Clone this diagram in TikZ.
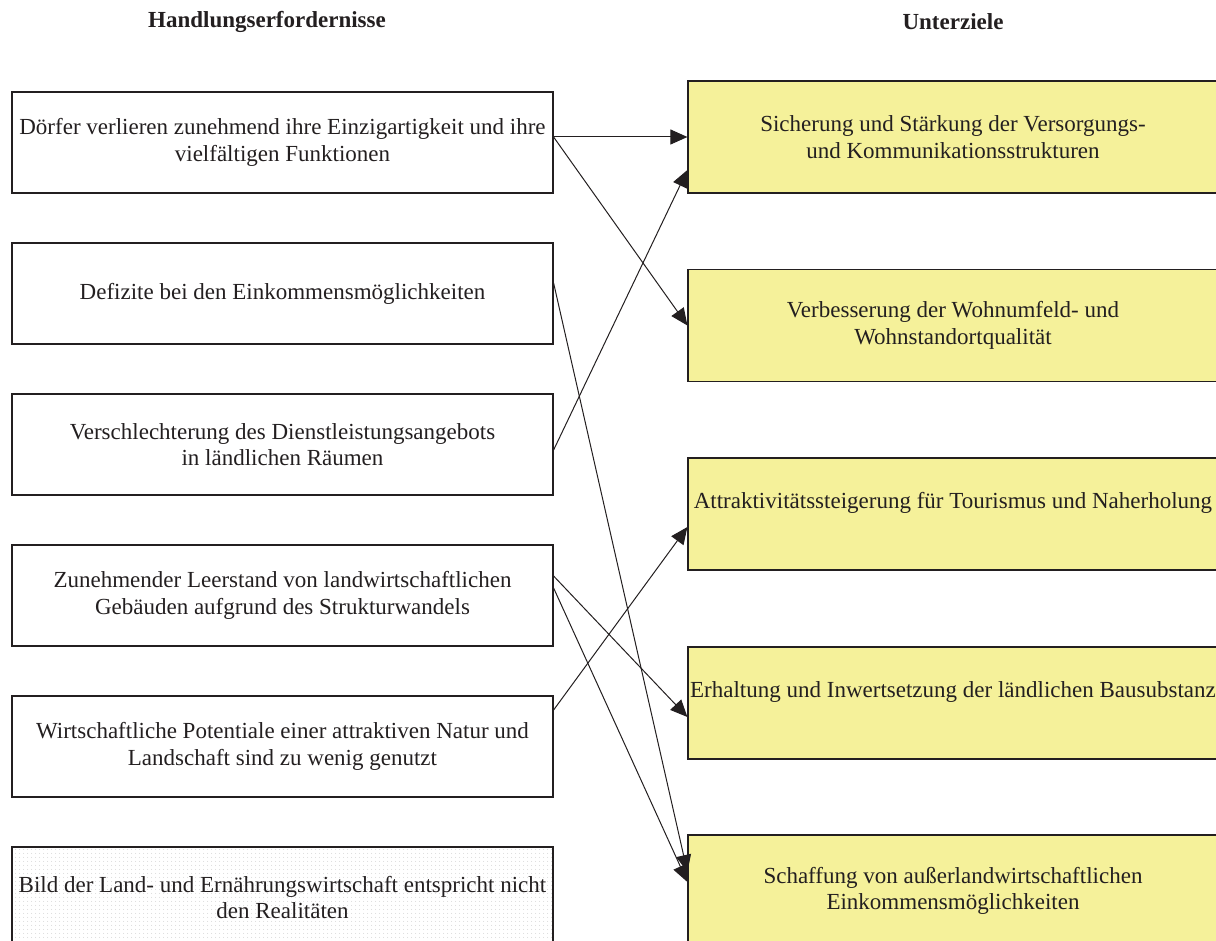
\documentclass[tikz,border=0pt]{standalone}
\usepackage{fontspec}
\setmainfont{Liberation Serif}
\usetikzlibrary{arrows.meta,patterns.meta}
\definecolor{zielgelb}{HTML}{F5F19A}
\definecolor{strich}{HTML}{231F20}
\begin{document}
\begin{tikzpicture}[x=1pt,y=-1pt,
        feld/.style={draw=strich,line width=1.2pt,minimum width=541pt,minimum height=101pt,
          inner sep=0pt,align=center,text=strich,font=\fontsize{23}{26.5}\selectfont},
        ziel/.style={feld,fill=zielgelb,minimum width=530pt,minimum height=112pt},
        kopf/.style={text=strich,font=\fontsize{23}{26.5}\selectfont\bfseries},
        pfeil/.style={draw=strich,line width=1pt,-{Triangle[length=17pt,width=15pt]}}]
        \clip (0,0) rectangle (1216,941);
        % Ueberschriften
        \node[kopf] (hkopf) at (267,22) {Handlungserfordernisse};
        \node[kopf] (ukopf) at (953,22) {Unterziele};
        % Handlungserfordernisse links
        \node[feld] (h1) at (282.5,142.5) {Dörfer verlieren zunehmend ihre Einzigartigkeit und ihre\\vielfältigen Funktionen};
        \node[feld] (h2) at (282.5,293.5) {Defizite bei den Einkommensmöglichkeiten};
        \node[feld] (h3) at (282.5,444.5) {Verschlechterung des Dienstleistungsangebots\\in ländlichen Räumen};
        \node[feld] (h4) at (282.5,595.5) {Zunehmender Leerstand von landwirtschaftlichen\\Gebäuden aufgrund des Strukturwandels};
        \node[feld] (h5) at (282.5,746.5) {Wirtschaftliche Potentiale einer attraktiven Natur und\\Landschaft sind zu wenig genutzt};
        \node[feld,pattern={Dots[distance=4pt,radius=0.55pt]},pattern color=gray!45] (h6) at (282.5,897.5)
          {Bild der Land- und Ernährungswirtschaft entspricht nicht\\den Realitäten};
        % Unterziele rechts
        \node[ziel] (u1) at (953,137) {Sicherung und Stärkung der Versorgungs-\\und Kommunikationsstrukturen};
        \node[ziel] (u2) at (953,325.5) {Verbesserung der Wohnumfeld- und\\Wohnstandortqualität};
        \node[ziel] (u3) at (953,514) {Attraktivitätssteigerung für Tourismus und Naherholung\\\mbox{}};
        \node[ziel] (u4) at (953,703) {Erhaltung und Inwertsetzung der ländlichen Bausubstanz\\\mbox{}};
        \node[ziel] (u5) at (953,891) {Schaffung von außerlandwirtschaftlichen\\Einkommensmöglichkeiten};
        % Pfeile
        \draw[pfeil] ([yshift=5.5pt]h1.east) -- (u1.west);
        \draw[pfeil] ([yshift=5.5pt]h1.east) -- (u2.west);
        \draw[pfeil] ([yshift=10.5pt]h2.east) -- ([yshift=19pt]u5.west);
        \draw[pfeil] ([yshift=-5.5pt]h3.east) -- ([yshift=-33pt]u1.west);
        \draw[pfeil] ([yshift=19.5pt]h4.east) -- ([yshift=-14pt]u4.west);
        \draw[pfeil] ([yshift=7.5pt]h4.east) -- ([yshift=9pt]u5.west);
        \draw[pfeil] ([yshift=36.5pt]h5.east) -- ([yshift=-13pt]u3.west);
\end{tikzpicture}
\end{document}
